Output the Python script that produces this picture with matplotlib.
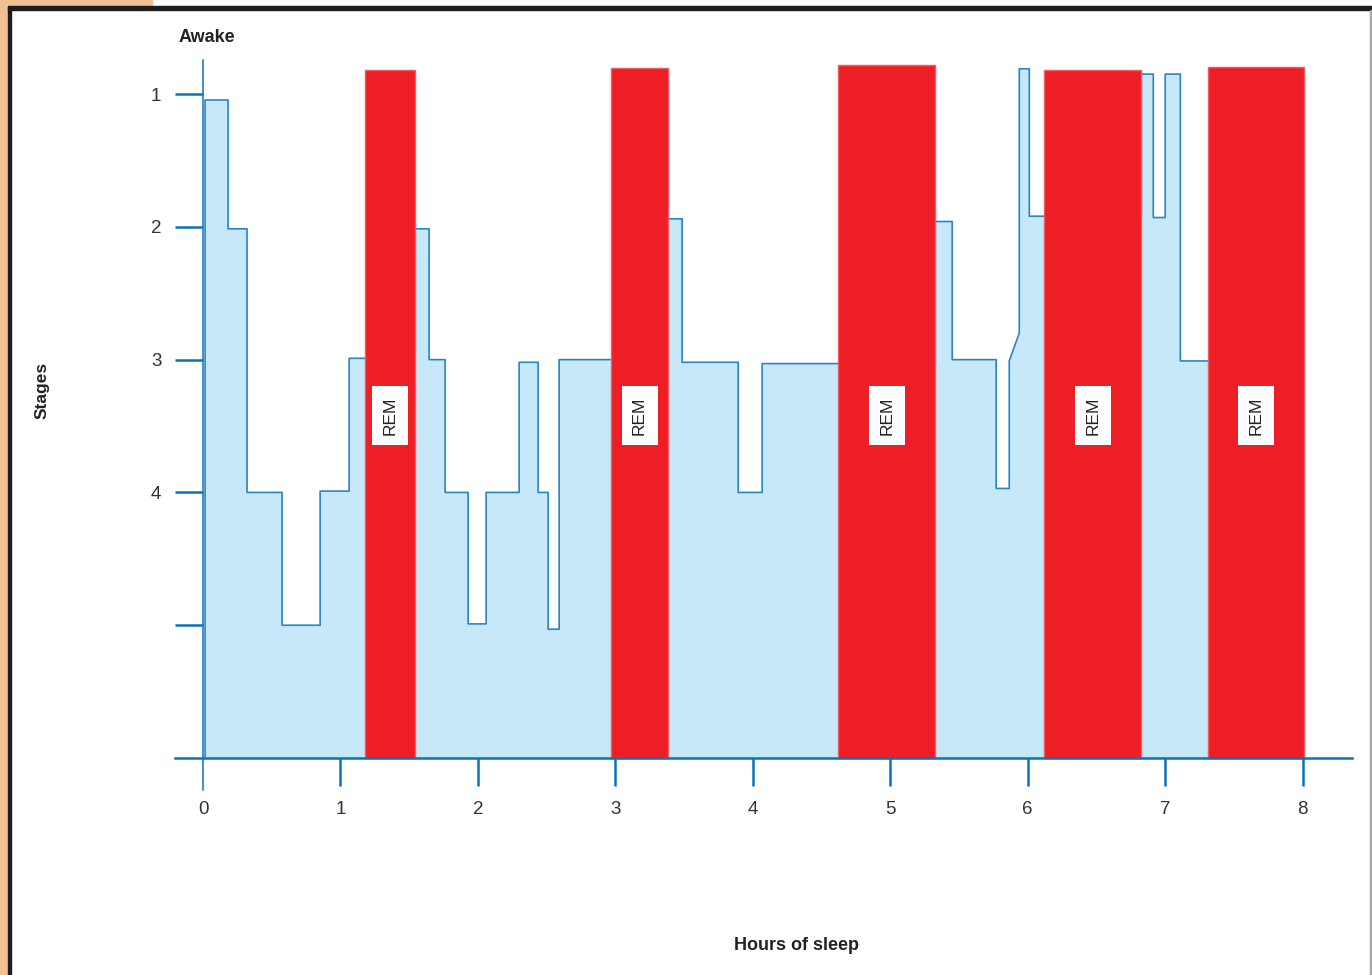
import matplotlib
matplotlib.use("Agg")
import matplotlib.pyplot as plt
from matplotlib.patches import Rectangle

plt.rcParams['font.family'] = ['Liberation Sans', 'DejaVu Sans']

# outline of the sleep-stage trace (hours, stage), stage 6 = baseline
sleep_hours = [0.015, 0.015, 0.182, 0.182, 0.320, 0.320, 0.575, 0.575, 0.852, 0.852,
               1.063, 1.063, 1.543, 1.543, 1.645, 1.645, 1.761, 1.761, 1.929, 1.929,
               2.060, 2.060, 2.300, 2.300, 2.438, 2.438, 2.511, 2.511, 2.591, 2.591,
               3.384, 3.384, 3.486, 3.486, 3.894, 3.894, 4.068, 4.068, 5.328, 5.328,
               5.451, 5.451, 5.771, 5.771, 5.866, 5.866, 5.939, 5.939, 6.012, 6.012,
               6.827, 6.827, 6.914, 6.914, 7.001, 7.001, 7.111, 7.111, 8.000, 8.000]
sleep_stage = [6.0, 1.045, 1.045, 2.015, 2.015, 4.0, 4.0, 5.0, 5.0, 3.99,
               3.99, 2.99, 2.99, 2.015, 2.015, 3.0, 3.0, 4.0, 4.0, 4.99,
               4.99, 4.0, 4.0, 3.02, 3.02, 4.0, 4.0, 5.03, 5.03, 3.0,
               3.0, 1.94, 1.94, 3.02, 3.02, 4.0, 4.0, 3.03, 3.03, 1.96,
               1.96, 3.0, 3.0, 3.97, 3.97, 3.01, 2.80, 0.81, 0.81, 1.92,
               1.92, 0.85, 0.85, 1.93, 1.93, 0.85, 0.85, 3.01, 3.01, 6.0]

# REM periods
rem_start = [1.179, 2.969, 4.622, 6.121, 7.314]
rem_end = [1.543, 3.384, 5.328, 6.827, 8.013]
rem_top = [0.82, 0.805, 0.78, 0.82, 0.80]

x_ticks = [1, 2, 3, 4, 5, 6, 7, 8]
x_labels = ['1', '2', '3', '4', '5', '6', '7', '8']
y_ticks = [1, 2, 3, 4, 5]
y_labels = ['1', '2', '3', '4', '']

BASELINE = 6.0
AXIS_BLUE = '#0a72bb'
LINE_BLUE = '#2a84c6'
FILL_BLUE = '#c6e8f8'
REM_RED = '#ee1e26'
W, H = 1372, 975

fig = plt.figure(figsize=(W / 100, H / 100), dpi=100)
fig.patch.set_facecolor('white')

# page decorations: peach margin and black frame
PEACH = '#efc194'
fig.patches.append(Rectangle((0, 0), 8 / W, 1, transform=fig.transFigure, color=PEACH, zorder=0))
fig.patches.append(Rectangle((0, 1 - 8 / H), 152 / W, 8 / H, transform=fig.transFigure, color=PEACH, zorder=0))
fig.patches.append(Rectangle((8 / W, 0), 3 / W, 1 - 7 / H, transform=fig.transFigure, color='#1c1c1c', zorder=1))
fig.patches.append(Rectangle((8 / W, 1 - 10 / H), 1, 4 / H, transform=fig.transFigure, color='#1c1c1c', zorder=1))
fig.patches.append(Rectangle((1369.5 / W, 0), 1.5 / W, 1 - 10 / H, transform=fig.transFigure, color='#a8a8a8', zorder=1))

# axes: x -0.204..8.36 -> px 175..1352, y 0.74..6.24 -> px 59.5..789.9
ax = fig.add_axes([175 / W, 1 - 789.9 / H, 1177 / W, 730.4 / H])
ax.set_facecolor('none')
ax.set_xlim(-0.204, 8.36)
ax.set_ylim(6.24, 0.74)

ax.fill_between(sleep_hours, sleep_stage, BASELINE, color=FILL_BLUE, lw=0, zorder=1)
ax.plot(sleep_hours, sleep_stage, color=LINE_BLUE, lw=1.2, zorder=2)

widths = [e - s for s, e in zip(rem_start, rem_end)]
heights = [t - BASELINE for t in rem_top]
ax.bar(rem_start, heights, width=widths, bottom=BASELINE, align='edge',
       color=REM_RED, edgecolor='#f3595e', linewidth=1.0, zorder=3)

for s, e in zip(rem_start, rem_end):
    ax.text((s + e) / 2, 3.42, 'REM', rotation=90, ha='center', va='center',
            fontsize=12.5, color='#222222', zorder=4,
            bbox=dict(boxstyle='square,pad=0.6', facecolor='white', edgecolor='none'))

for side in ['top', 'right']:
    ax.spines[side].set_visible(False)
ax.spines['left'].set_position(('data', 0))
ax.spines['bottom'].set_position(('data', BASELINE))
ax.spines['left'].set_color(AXIS_BLUE)
ax.spines['bottom'].set_color(AXIS_BLUE)
ax.spines['left'].set_linewidth(1.1)
ax.spines['bottom'].set_linewidth(1.8)
ax.spines['left'].set_zorder(5)
ax.spines['bottom'].set_zorder(5)

ax.set_xticks(x_ticks, labels=x_labels)
ax.set_xticks([0], labels=['0'], minor=True)
ax.set_yticks(y_ticks, labels=y_labels)
ax.tick_params(axis='both', which='major', direction='out', length=20, width=1.8,
               color=AXIS_BLUE, labelsize=13.5, labelcolor='#333333')
ax.tick_params(axis='x', which='major', pad=11)
ax.tick_params(axis='y', which='major', pad=10)
ax.tick_params(axis='x', which='minor', length=0, pad=31, labelsize=13.5, labelcolor='#333333')

fig.text(207 / W, 1 - 38 / H, 'Awake', ha='center', va='center', fontsize=13,
         fontweight='bold', color='#222222')
fig.text(42 / W, 1 - 390 / H, 'Stages', ha='center', va='center', rotation=90,
         fontsize=12.5, fontweight='bold', color='#222222')
fig.text(796 / W, 1 - 945 / H, 'Hours of sleep', ha='center', va='center', fontsize=13,
         fontweight='bold', color='#222222')

fig.savefig('out.png', dpi=100)
